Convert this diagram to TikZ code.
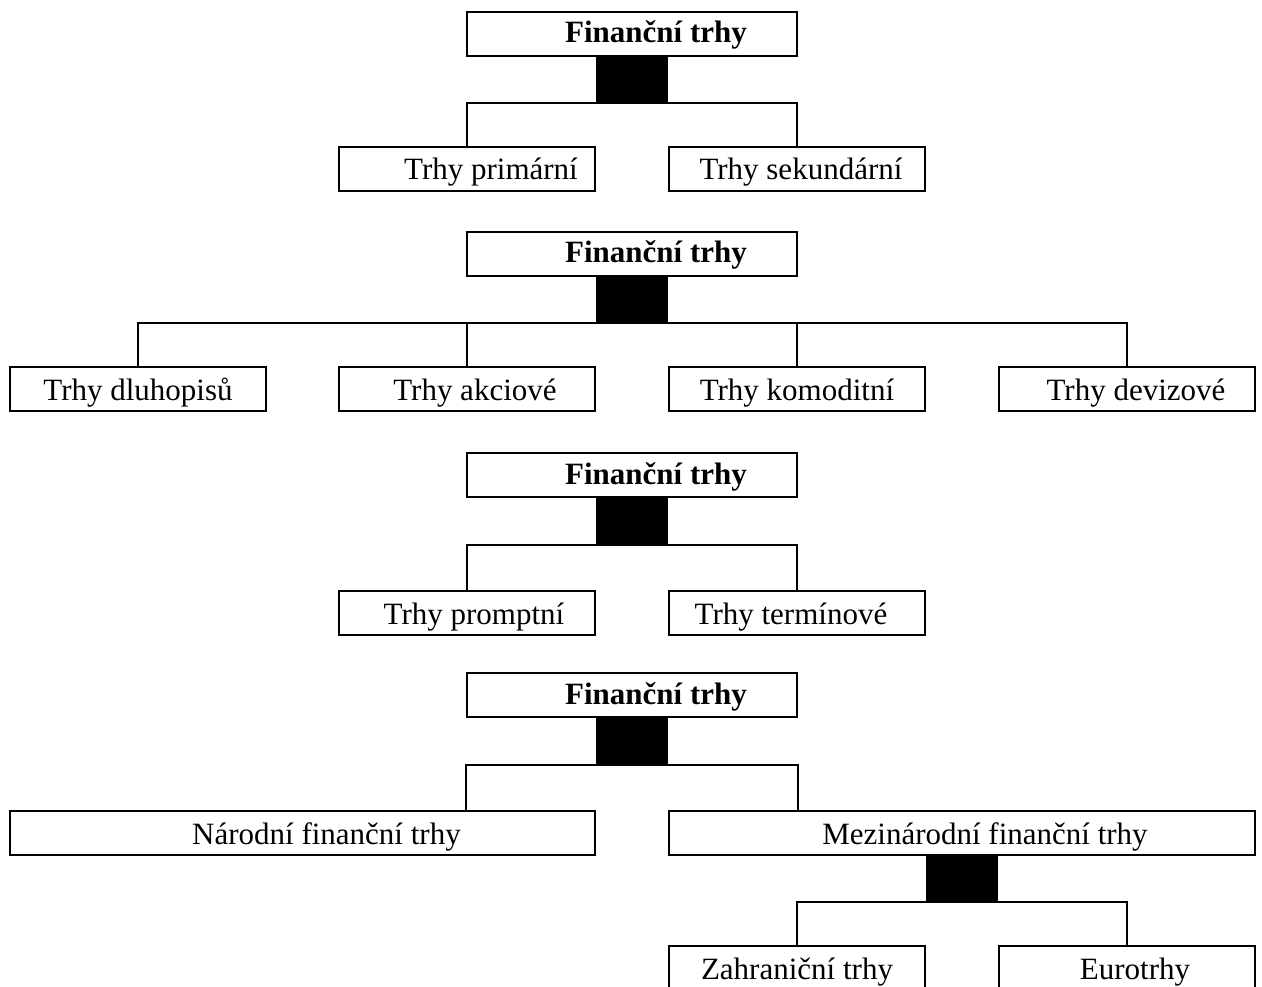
\documentclass[tikz,border=0pt]{standalone}
\usepackage{fontspec}
\setmainfont{Liberation Serif}
\tikzset{
  box/.style={draw, rectangle, line width=2pt, minimum width=256pt, minimum height=44pt, inner sep=0pt, text height=22pt, text depth=0pt},
  topbox/.style={box, minimum width=330pt, text height=18pt, font=\fontsize{31}{37}\selectfont\bfseries},
  bar/.style={rectangle, fill=black, minimum width=72pt, minimum height=46pt, inner sep=0pt},
}
\begin{document}
\begin{tikzpicture}[x=1pt, y=-1pt, line width=2pt, font=\fontsize{31}{37}\selectfont]
	  \useasboundingbox (0,0) rectangle (1262,987);
	  % primary / secondary
	  \node[topbox] (f1) at (632,34) {\hspace*{48pt}Finanční trhy};
	  \node[bar] (bar1) at (632,79) {};
	  \node[box] (p1) at (467,169) {\hspace*{48pt}Trhy primární};
	  \node[box] (s1) at (797,169) {\hspace*{8pt}Trhy sekundární};
	  
	  % by instrument
	  \node[topbox] (f2) at (632,254) {\hspace*{48pt}Finanční trhy};
	  \node[bar] (bar2) at (632,299) {};
	  \node[box] (d1) at (138,389) {Trhy dluhopisů};
	  \node[box] (d2) at (467,389) {\hspace*{16pt}Trhy akciové};
	  \node[box] (d3) at (797,389) {Trhy komoditní};
	  \node[box] (d4) at (1127,389) {\hspace*{18pt}Trhy devizové};
	  
	  % by time
	  \node[topbox] (f3) at (632,475) {\hspace*{48pt}Finanční trhy};
	  \node[bar] (bar3) at (632,521) {};
	  \node[box] (t1) at (467,613) {\hspace*{14pt}Trhy promptní};
	  \node[box] (t2) at (797,613) {Trhy termínové\hspace*{12pt}};
	  
	  % by territory
	  \node[topbox] (f4) at (632,695) {\hspace*{48pt}Finanční trhy};
	  \node[bar] (bar4) at (632,741) {};
	  \node[box, minimum width=585pt] (n1) at (302.5,833) {\hspace*{48pt}Národní finanční trhy};
	  \node[box, minimum width=586pt] (n2) at (962,833) {\hspace*{46pt}Mezinárodní finanční trhy};
	  \node[bar] (bar5) at (962,878) {};
	  \node[box] (z1) at (797,968) {Zahraniční trhy};
	  \node[box] (z2) at (1127,968) {\hspace*{16pt}Eurotrhy};
	  
	  \draw (p1.north) |- (bar1.south) -| (s1.north);
	  \draw (d1.north) |- (bar2.south) -| (d4.north);
	  \draw (d2.north) -- (d2.north |- bar2.south);
	  \draw (d3.north) -- (d3.north |- bar2.south);
	  \draw (t1.north) |- (bar3.south) -| (t2.north);
	  \draw (f4.south west |- n1.north) |- (bar4.south) -| (f4.south east |- n2.north);
	  \draw (z1.north) |- (bar5.south) -| (z2.north);
	\end{tikzpicture}
\end{document}
